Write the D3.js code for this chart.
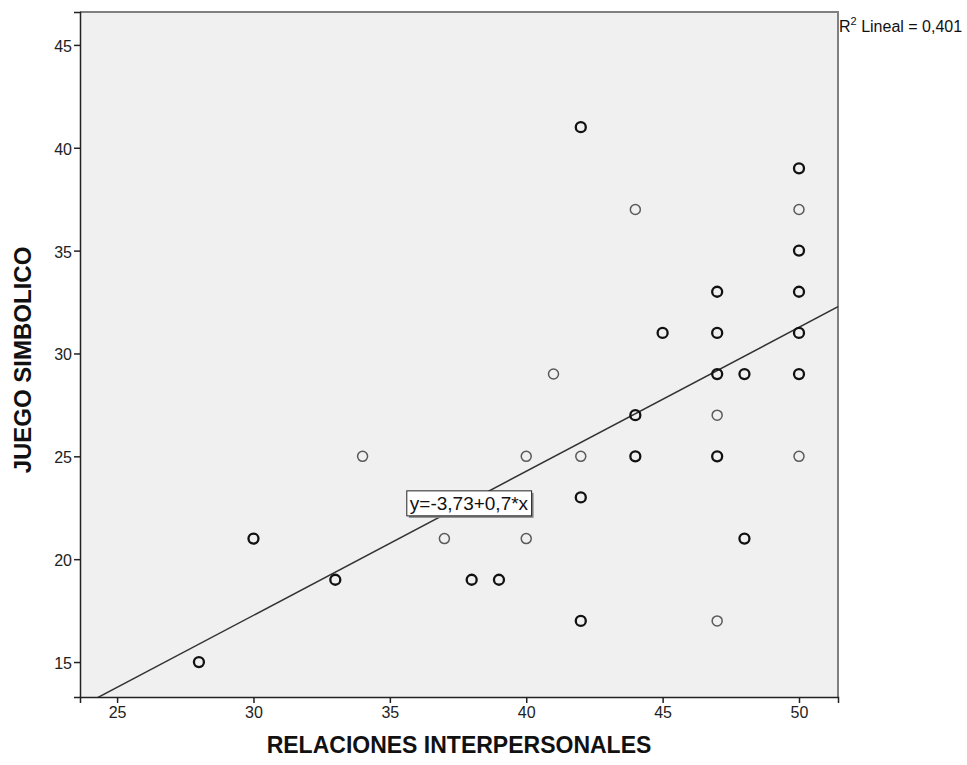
<!DOCTYPE html>
<html>
<head>
<meta charset="utf-8">
<script src="https://cdn.jsdelivr.net/npm/d3@7"></script>
<style>
  body { margin: 0; background: #fff; }
  text { font-family: Arial, "Liberation Sans", sans-serif; }
</style>
</head>
<body>
<svg id="chart" width="967" height="765"></svg>
<script>
// data
const relaciones = [28, 30, 33, 34, 37, 38, 39, 40, 40, 41, 42, 42, 42, 42, 44, 44, 44, 45,
  47, 47, 47, 47, 47, 47, 48, 48, 50, 50, 50, 50, 50, 50, 50];
const juego = [15, 21, 19, 25, 21, 19, 19, 25, 21, 29, 41, 25, 23, 17, 37, 27, 25, 31,
  33, 31, 29, 27, 25, 17, 29, 21, 39, 37, 35, 33, 31, 29, 25];
// repeated cases draw darker
const repeated = [1, 1, 1, 0, 0, 1, 1, 0, 0, 0, 1, 0, 1, 1, 0, 1, 1, 1,
  1, 1, 1, 0, 1, 0, 1, 1, 1, 0, 1, 1, 1, 1, 0];
const xTicks = [25, 30, 35, 40, 45, 50];
const yTicks = [15, 20, 25, 30, 35, 40, 45];
const fit = { a: -3.73, b: 0.7, r2: "0,401" };
const fitLabel = "y=-3,73+0,7*x";

const width = 967, height = 765;
const marginTop = 12, marginRight = 129, marginBottom = 68, marginLeft = 80;

const svg = d3.select("#chart");

const x = d3.scaleLinear().domain([23.64, 51.43]).range([marginLeft, width - marginRight]);
const y = d3.scaleLinear().domain([13.3, 46.6]).range([height - marginBottom, marginTop]);

// plot background
svg.append("rect")
  .attr("x", x.range()[0]).attr("y", y.range()[1])
  .attr("width", x.range()[1] - x.range()[0])
  .attr("height", y.range()[0] - y.range()[1])
  .attr("fill", "#f0f0f0");

svg.append("clipPath").attr("id", "clip")
  .append("rect")
  .attr("x", x.range()[0]).attr("y", y.range()[1])
  .attr("width", x.range()[1] - x.range()[0])
  .attr("height", y.range()[0] - y.range()[1]);

// top and right frame
svg.append("path")
  .attr("d", `M${x.range()[0]},${y.range()[1]}H${x.range()[1]}V${y.range()[0]}`)
  .attr("fill", "none")
  .attr("stroke", "#808080")
  .attr("stroke-width", 2);

const xAxis = svg.append("g")
  .attr("transform", `translate(0,${y.range()[0]})`)
  .call(d3.axisBottom(x).tickValues(xTicks).tickSizeOuter(0).tickSize(6).tickPadding(4));

const yAxis = svg.append("g")
  .attr("transform", `translate(${x.range()[0]},0)`)
  .call(d3.axisLeft(y).tickValues(yTicks).tickSizeOuter(0).tickSize(6).tickPadding(2));

[xAxis, yAxis].forEach(ax => {
  ax.attr("font-size", 16).attr("font-family", "Arial, 'Liberation Sans', sans-serif");
  ax.select(".domain").attr("stroke", "#222").attr("stroke-width", 1.5);
  ax.selectAll(".tick line").attr("stroke", "#222").attr("stroke-width", 1.5);
  ax.selectAll(".tick text").attr("fill", "#222");
});
yAxis.selectAll(".tick text").attr("dy", "0.4em");

// regression line
const lineX = x.domain();
svg.append("g").attr("clip-path", "url(#clip)")
  .append("line")
  .attr("x1", x(lineX[0])).attr("y1", y(fit.a + fit.b * lineX[0]))
  .attr("x2", x(lineX[1])).attr("y2", y(fit.a + fit.b * lineX[1]))
  .attr("stroke", "#333")
  .attr("stroke-width", 1.5);

// points
const points = relaciones.map((v, i) => ({ x: v, y: juego[i], rep: repeated[i] }));
svg.append("g")
  .selectAll("circle")
  .data(points)
  .join("circle")
  .attr("cx", d => x(d.x))
  .attr("cy", d => y(d.y))
  .attr("r", 5)
  .attr("fill", "none")
  .attr("stroke", d => d.rep ? "#111" : "#5a5a5a")
  .attr("stroke-width", d => d.rep ? 2.3 : 1.5);

// equation label
const lab = svg.append("g").attr("transform", `translate(${x(37.9)},${y(22.73)})`);
const labText = lab.append("text")
  .attr("text-anchor", "middle")
  .attr("dy", "0.36em")
  .attr("font-size", 19)
  .attr("fill", "#111")
  .text(fitLabel);
const bb = labText.node().getBBox();
lab.insert("rect", "text")
  .attr("x", bb.x - 3 + 2).attr("y", bb.y - 2 + 2)
  .attr("width", bb.width + 6).attr("height", bb.height + 4)
  .attr("fill", "#888");
lab.insert("rect", "text")
  .attr("x", bb.x - 3).attr("y", bb.y - 2)
  .attr("width", bb.width + 6).attr("height", bb.height + 4)
  .attr("fill", "#fff")
  .attr("stroke", "#222")
  .attr("stroke-width", 1);

// R² label
const r2 = svg.append("text")
  .attr("x", x.range()[1] + 1)
  .attr("y", 32)
  .attr("font-size", 16)
  .attr("fill", "#111");
r2.append("tspan").text("R");
r2.append("tspan").attr("font-size", 11).attr("dy", -7).text("2");
r2.append("tspan").attr("dy", 7).text(" Lineal = " + fit.r2);

// axis titles
svg.append("text")
  .attr("x", (x.range()[0] + x.range()[1]) / 2)
  .attr("y", 753)
  .attr("text-anchor", "middle")
  .attr("font-size", 23)
  .attr("font-weight", "bold")
  .attr("fill", "#111")
  .text("RELACIONES INTERPERSONALES");

svg.append("text")
  .attr("transform", `translate(31,360) rotate(-90)`)
  .attr("text-anchor", "middle")
  .attr("font-size", 24)
  .attr("font-weight", "bold")
  .attr("fill", "#111")
  .text("JUEGO SIMBOLICO");
</script>
</body>
</html>
